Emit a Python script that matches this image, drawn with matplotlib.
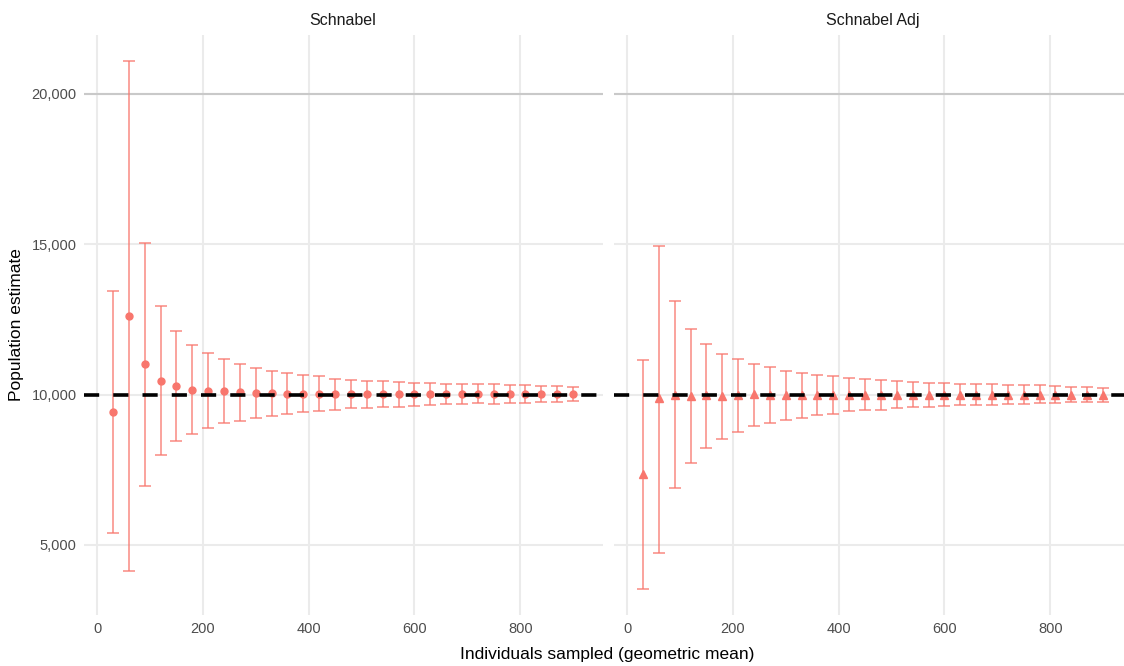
import matplotlib
matplotlib.use("Agg")
import matplotlib.pyplot as plt
import matplotlib.ticker as mticker
import numpy as np

plt.rcParams['font.family'] = ['Liberation Sans', 'DejaVu Sans']

# individuals sampled (geometric mean), same for both panels
n_sampled = list(range(30, 901, 30))

# Schnabel estimates
schnabel_mean = [9409, 12624, 11005, 10461, 10284, 10165, 10130, 10106, 10083, 10047,
                 10035, 10024, 10024, 10020, 10018, 10015, 10013, 10012, 10010, 10010,
                 10008, 10008, 10007, 10006, 10006, 10005, 10005, 10004, 10004, 10003]
schnabel_upper = [13428, 21076, 15035, 12943, 12128, 11655, 11383, 11170, 11017, 10875,
                  10792, 10721, 10662, 10626, 10530, 10497, 10445, 10450, 10420, 10387,
                  10374, 10354, 10364, 10341, 10341, 10321, 10308, 10288, 10275, 10255]
schnabel_lower = [5390, 4149, 6974, 8002, 8440, 8688, 8877, 9043, 9125, 9220,
                  9279, 9338, 9409, 9456, 9480, 9536, 9536, 9570, 9592, 9613,
                  9646, 9669, 9680, 9702, 9692, 9725, 9725, 9745, 9758, 9778]

# Schnabel adjusted estimates
adj_mean = [7359, 9870, 10000, 9956, 10000, 9956, 9990, 10011, 9995, 9978,
            9990, 9985, 9990, 9990, 9988, 9990, 9992, 9990, 9993, 9992,
            9994, 9993, 9995, 9994, 9995, 9996, 9995, 9996, 9997, 9997]
adj_upper = [11160, 14950, 13094, 12177, 11680, 11348, 11171, 11017, 10906, 10785,
             10718, 10663, 10608, 10540, 10507, 10497, 10440, 10420, 10397, 10387,
             10354, 10364, 10341, 10331, 10308, 10308, 10275, 10255, 10242, 10232]
adj_lower = [3547, 4740, 6884, 7735, 8232, 8530, 8751, 8939, 9050, 9160,
             9227, 9304, 9348, 9440, 9480, 9480, 9536, 9570, 9570, 9613,
             9646, 9646, 9646, 9680, 9680, 9702, 9725, 9745, 9758, 9758]

true_pop = 10000
panels = [("Schnabel", schnabel_mean, schnabel_upper, schnabel_lower, "o", 5),
          ("Schnabel Adj", adj_mean, adj_upper, adj_lower, "^", 6)]

col = "#F8766D"
bar_w = 22  # errorbar width in data units

# shared limits, ggplot style 5% expansion
x = np.array(n_sampled)
xlo, xhi = x.min() - bar_w / 2, x.max() + bar_w / 2
xr = xhi - xlo
all_lo = min(min(schnabel_lower), min(adj_lower))
all_hi = max(max(schnabel_upper), max(adj_upper))
yr = all_hi - all_lo

fig = plt.figure(figsize=(11.24, 6.66), dpi=100)
W, H = 1124, 666
ax_left_px = [83.5, 613.5]
ax_w_px = 519
ax_bottom_px = 51
ax_h_px = 580

for k, (title, m, up, lo, mk, ms) in enumerate(panels):
    ax = fig.add_axes([ax_left_px[k] / W, ax_bottom_px / H, ax_w_px / W, ax_h_px / H])
    ax.set_xlim(xlo - 0.05 * xr, xhi + 0.05 * xr)
    ax.set_ylim(all_lo - 0.05 * yr, all_hi + 0.05 * yr)

    m = np.array(m)
    yerr = [m - np.array(lo), np.array(up) - m]
    ax.errorbar(x, m, yerr=yerr, fmt="none", ecolor=col, elinewidth=1.1,
                capsize=4.2, capthick=1.1, alpha=0.85, zorder=3)
    ax.plot(x, m, linestyle="none", marker=mk, color=col, markersize=ms, zorder=4)
    ax.axhline(true_pop, color="black", linewidth=2.6, dashes=(4.2, 3.9), zorder=5)

    ax.set_xticks([0, 200, 400, 600, 800])
    ax.set_yticks([5000, 10000, 15000, 20000])
    ax.yaxis.set_major_formatter(mticker.FuncFormatter(lambda v, p: f"{int(v):,}"))
    ax.grid(True, color="#EBEBEB", linewidth=1.5, zorder=0)
    ax.set_axisbelow(True)
    # the 20,000 line shows darker in the original
    ax.axhline(20000, color="#C9C9C9", linewidth=1.5, zorder=1)
    for s in ax.spines.values():
        s.set_visible(False)
    ax.tick_params(length=0, labelsize=10.5, colors="#4D4D4D", pad=5)
    if k == 1:
        ax.tick_params(labelleft=False)
    ax.set_title(title, fontsize=11.5, color="#1A1A1A", pad=7)

fig.text(448 / W + 319 / 2 / W, 1 - 655 / H, "Individuals sampled (geometric mean)",
         ha="center", va="center", fontsize=12.5, color="black")
fig.text(17 / W, 1 - 325 / H, "Population estimate", rotation=90,
         ha="center", va="center", fontsize=12.5, color="black")

fig.savefig("out.png", dpi=100, facecolor="white")
